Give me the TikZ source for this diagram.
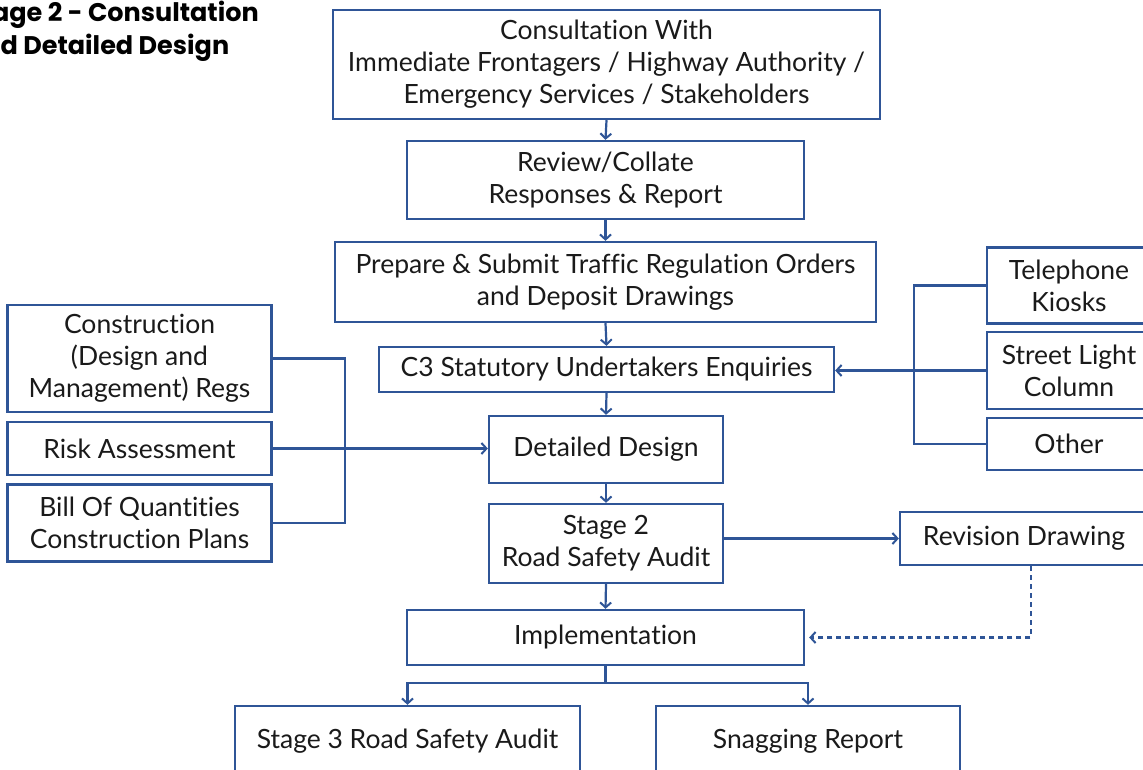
\documentclass[tikz,border=0pt]{standalone}
\usepackage{fontspec}
\setmainfont{Lato}[Ligatures=NoCommon]
\newfontfamily\titlefont{Poppins}
\usetikzlibrary{arrows.meta}
\definecolor{bl}{HTML}{2F5597}
\definecolor{tx}{HTML}{1A1A1A}
\begin{document}
\begin{tikzpicture}[x=1pt,y=-1pt,
  box/.style={draw=bl,line width=2.4pt,align=center,inner sep=0pt,text=tx,
    font=\fontsize{26.5}{32}\selectfont},
  conn/.style={draw=bl,line width=2.2pt},
  arr/.style={conn,-{Straight Barb[length=5pt,width=11pt,line width=2pt]}},
]
\useasboundingbox (0,0) rectangle (1143,769);
\clip (0,0) rectangle (1143,769);
\fill[white] (0,0) rectangle (1143,769);

% title (cut off at the left edge, as in the reference)
\node[anchor=north east,inner sep=0pt,align=left,text=black,
  font=\fontsize{25.5}{33}\selectfont\titlefont\bfseries] (title) at (259,1)
  {Stage 2 - Consultation\\and Detailed Design};

% main chain
\node[box,minimum width=547pt,minimum height=109pt] (c1) at (606.5,64.5)
  {Consultation With\\Immediate Frontagers / Highway Authority /\\Emergency Services / Stakeholders};
\node[box,minimum width=397pt,minimum height=78pt] (c2) at (605.5,180)
  {Review/Collate\\Responses \& Report};
\node[box,minimum width=541pt,minimum height=80pt] (c3) at (605.5,282)
  {Prepare \& Submit Traffic Regulation Orders\\and Deposit Drawings};
\node[box,minimum width=455pt,minimum height=45pt] (c4) at (606.5,369.5)
  {C3 Statutory Undertakers Enquiries};
\node[box,minimum width=234pt,minimum height=67pt] (dd) at (606,449.5)
  {Detailed Design};
\node[box,minimum width=234pt,minimum height=79pt] (s2) at (606,543.5)
  {Stage 2\\Road Safety Audit};
\node[box,minimum width=397pt,minimum height=55pt] (impl) at (605.5,637.5)
  {Implementation};
\node[box,minimum width=345pt,minimum height=70pt] (s3) at (407.5,741)
  {Stage 3 Road Safety Audit};
\node[box,minimum width=304pt,minimum height=70pt] (snag) at (808,741)
  {Snagging Report};

% left boxes
\node[box,minimum width=264pt,minimum height=107pt] (cdm) at (139.5,358.5)
  {Construction\\(Design and\\Management) Regs};
\node[box,minimum width=264pt,minimum height=53pt] (risk) at (139.5,448.5)
  {Risk Assessment};
\node[box,minimum width=264pt,minimum height=77pt] (boq) at (139.5,523)
  {Bill Of Quantities\\Construction Plans};

% right boxes
\node[box,minimum width=164pt,minimum height=76pt] (tel) at (1069,285.5)
  {Telephone\\Kiosks};
\node[box,minimum width=164pt,minimum height=77pt] (sl) at (1069,370.5)
  {Street Light\\Column};
\node[box,minimum width=164pt,minimum height=52pt] (oth) at (1069,444)
  {Other};
\node[box,minimum width=248pt,minimum height=53pt] (rev) at (1024,538.5)
  {Revision Drawing};

% chain arrows
\draw[arr] (c1.south) -- (c2.north);
\draw[arr] (c2.south) -- (c3.north);
\draw[arr] (c3.south) -- (c4.north);
\draw[arr] (c4.south) -- (dd.north);
\draw[arr] (dd.south) -- (s2.north);
\draw[arr] (s2.south) -- (impl.north);

% split
\draw[conn] (impl.south) -- ++(0,17) coordinate (sp);
\draw[arr] (sp) -| (s3.north);
\draw[arr] (sp) -| (snag.north);

% left bracket
\draw[conn] (cdm.east) -- ++(72,0) |- (boq.east);
\draw[arr] (risk.east) -- (risk.east -| dd.west);

% right bracket
\draw[conn] (tel.west) -- ++(-72,0) |- (oth.west);
\draw[arr] (sl.west) -- (sl.west -| c4.east);

% revision
\draw[arr] (s2.east |- rev.west) -- (rev.west);
\draw[arr,dashed,dash pattern=on 5pt off 4pt,shorten >=4pt] ([xshift=7pt]rev.south) |- (impl.east);
\end{tikzpicture}
\end{document}
